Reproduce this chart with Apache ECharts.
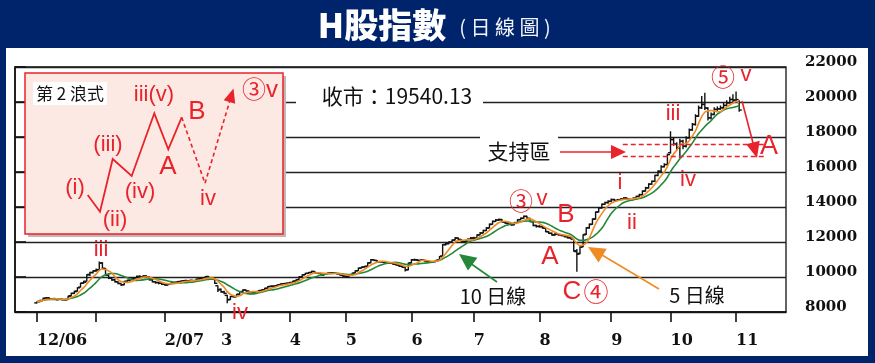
<!DOCTYPE html>
<html><head><meta charset="utf-8">
<script src="https://cdn.jsdelivr.net/npm/echarts@6/dist/echarts.min.js"></script>
<style>html,body{margin:0;padding:0;background:#fff;}#c{width:875px;height:363px;}</style>
</head><body><div id="c"></div>
<script>
// ---- data: H-share index daily OHLC, 1 Dec 2006 .. 2 Nov 2007 (trading-day index starts at 7) ----
const firstIdx = 7;
const opens = [
 8520,8600,8660,8790,8810,8730,8770,8700,8740,8710,8720,8930,9060,9200,9420,9660,9760,10150,10260,
 10360,10420,10800,10480,10100,9950,9850,9720,9620,9560,9760,9820,9880,9960,10040,10000,10060,10010,9840,9730,9690,9650,
 9590,9540,9610,9650,9700,9740,9770,9800,9780,9810,9800,9880,9910,9960,10030,9940,9960,9500,
 9300,9140,8950,8720,8900,8870,9020,9170,9250,9190,9060,9130,9170,9230,9270,9360,9460,9480,9500,9560,9610,9630,
 9650,9690,9770,9850,10010,10130,10210,10260,10320,10240,10200,10110,10180,10220,10240,10210,10170,10110,
 10060,10010,10110,10230,10360,10510,10570,10620,10820,10990,10940,10870,10870,10840,10810,10780,10730,10680,10610,10550,10420,
 10810,10990,10970,10940,10990,10920,10870,10860,10890,10970,11200,11860,11910,12000,12120,12230,12140,12010,12060,12160,
 12230,12230,12410,12520,12660,12800,13020,13180,13260,13290,13140,13070,13010,12990,13110,13280,13360,13470,13340,13160,12940,
 12900,12870,12790,12580,12490,12400,12460,12420,12360,12300,12240,12150,11450,11350,11750,12450,12820,13020,13320,13720,13960,14160,14260,
 14330,14430,14370,14420,14460,14520,14440,14420,14510,14610,14710,14910,15100,15310,15470,15810,16050,16310,16430,
 17100,17860,17580,17400,17760,17480,17960,18420,18730,19200,19680,19870,19640,19100,19300,19580,19620,19680,19810,19960,20150,
 20110,20000
];
const highs = [
 8620,8700,8820,8860,8830,8800,8790,8780,8770,8740,8930,9100,9220,9420,9680,9790,10160,10300,10380,
 10480,10880,10850,10520,10150,10000,9900,9760,9650,9780,9850,9900,9990,10080,10100,10100,10110,10040,9880,9760,9720,9690,
 9620,9640,9680,9720,9770,9790,9830,9840,9840,9830,9900,9940,9990,10060,10060,9990,9990,9520,
 9350,9210,8980,8920,8950,9040,9190,9300,9290,9210,9150,9190,9250,9290,9380,9480,9510,9520,9580,9630,9660,9680,
 9720,9790,9860,10040,10160,10240,10290,10360,10340,10280,10230,10200,10250,10270,10270,10240,10200,10140,
 10090,10130,10250,10380,10540,10600,10640,10840,11030,11020,10970,10910,10900,10880,10840,10810,10760,10710,10640,10580,10820,
 11030,11050,11020,11020,11030,10960,10910,10920,10990,11200,11880,11960,12050,12150,12280,12260,12170,12100,12200,12280,
 12300,12440,12570,12700,12850,13060,13230,13320,13350,13320,13190,13120,13060,13150,13310,13400,13520,13500,13380,13190,12990,
 12960,12920,12830,12620,12540,12510,12500,12460,12400,12340,12300,12180,11600,11760,12450,12850,13060,13350,13750,14000,14200,14300,14380,
 14480,14470,14460,14500,14560,14540,14480,14540,14650,14760,14950,15150,15360,15520,15850,16100,16380,16500,17050,
 18330,18000,17700,17900,17850,18050,18480,18800,19300,19800,20350,20530,19700,19400,19700,19750,19800,19950,20100,20300,20450,
 20600,20100
];
const lows = [
 8480,8560,8640,8740,8700,8700,8680,8680,8670,8640,8700,8880,9030,9160,9400,9610,9740,10060,10200,
 10300,10380,10450,10080,9880,9780,9680,9590,9480,9530,9720,9790,9850,9930,9950,9960,9990,9800,9690,9620,9580,9540,
 9500,9510,9580,9630,9680,9710,9740,9750,9750,9760,9780,9850,9880,9930,9900,9900,9600,9150,
 9100,9020,8500,8680,8820,8850,8990,9130,9170,9030,9030,9100,9150,9210,9250,9340,9430,9450,9480,9540,9580,9600,
 9620,9660,9750,9830,9980,10110,10180,10230,10220,10180,10080,10090,10150,10190,10180,10150,10090,10010,
 9980,9990,10090,10200,10340,10480,10540,10600,10790,10920,10850,10830,10810,10790,10760,10710,10660,10590,10530,10320,10380,
 10790,10930,10910,10920,10900,10850,10810,10830,10870,10950,11180,11800,11870,11960,12090,12110,11980,11980,12030,12130,
 12150,12200,12380,12490,12630,12780,12990,13140,13200,13110,13040,12960,12930,12960,13080,13240,13330,13300,13130,12900,12830,
 12820,12760,12560,12460,12360,12360,12370,12330,12270,12200,12150,11450,10300,11300,11700,12400,12760,12980,13280,13680,13900,14120,14180,
 14290,14340,14340,14390,14420,14410,14370,14380,14480,14580,14680,14880,15050,15260,15430,15760,16000,16260,16400,
 17050,17500,17250,16800,17300,17400,17900,18350,18650,19150,19600,19550,18950,19000,19250,19500,19550,19600,19750,19900,19950,
 20000,19450
];
const closes = [
 8590,8650,8780,8800,8740,8760,8720,8730,8700,8690,8900,9070,9160,9380,9640,9700,10120,10250,10340,
 10400,10790,10500,10120,9930,9830,9735,9640,9550,9735,9800,9870,9950,10020,10000,10050,10020,9850,9735,9680,9640,9600,
 9550,9600,9640,9690,9735,9760,9790,9790,9800,9790,9870,9900,9950,10020,9930,9950,9640,9260,
 9160,9070,8690,8880,8880,9000,9160,9260,9200,9070,9120,9160,9220,9260,9350,9450,9470,9490,9550,9600,9620,9640,
 9680,9760,9830,10000,10120,10200,10250,10310,10250,10215,10120,10170,10215,10230,10215,10180,10120,10050,
 10020,10100,10215,10350,10500,10560,10595,10800,10980,10950,10880,10860,10850,10820,10790,10740,10690,10620,10560,10405,10790,
 10980,10980,10950,10980,10930,10880,10850,10880,10950,11170,11840,11900,11980,12100,12220,12150,12025,12050,12150,12220,
 12220,12400,12510,12650,12790,13000,13170,13250,13270,13150,13080,13000,12980,13100,13270,13350,13460,13350,13170,12950,12885,
 12885,12800,12600,12500,12410,12450,12410,12380,12310,12250,12220,11500,11300,11700,12400,12800,13000,13300,13700,13950,14150,14250,14315,
 14415,14380,14415,14450,14510,14450,14415,14500,14600,14700,14900,15085,15300,15460,15800,16035,16300,16420,16990,
 17850,17600,17375,17750,17465,17950,18400,18710,19185,19665,19855,19665,19090,19280,19570,19600,19665,19800,19950,20140,20100,
 20140,19540
];
const monthTickIdx = [7, 26, 48, 66, 88, 106, 127, 147, 168, 191, 210, 231];
const monthTickLabels = ['12/06', '', '2/07', '3', '4', '5', '6', '7', '8', '9', '10', '11'];
const supportLevels = [17600, 16880];
const supportRange = [194.7, 240];

// ---- derived ----
const ohlc = closes.map((c, k) => [firstIdx + k, opens[k], highs[k], lows[k], c]);
function movingAvg(n) {
  return closes.map((_, k) => {
    const s = closes.slice(Math.max(0, k - n + 1), k + 1);
    return [firstIdx + k, s.reduce((a, b) => a + b, 0) / s.length];
  });
}

const RED = '#e8232b', ORANGE = '#f08a24', GREEN = '#23883a', NAVY = '#00246c';
const CJK = '"Noto Sans CJK TC", sans-serif';
const SANS = '"Liberation Sans", Arial, sans-serif';

function T(text, x, y, size, color, family, weight, z) {
  return {type: 'text', z: z || 40, style: {text: text, x: x, y: y, fill: color,
    font: (weight || 'normal') + ' ' + size + 'px ' + (family || SANS), align: 'center', verticalAlign: 'middle'}};
}
function R(x, y, w, h, fill, z, stroke, lw) {
  return {type: 'rect', z: z || 20, shape: {x: x, y: y, width: w, height: h},
    style: {fill: fill, stroke: stroke || null, lineWidth: lw || 0}};
}
function L(pts, color, lw, dash) {
  return {type: 'polyline', z: 35, shape: {points: pts}, style: {stroke: color, lineWidth: lw, fill: null, lineDash: dash || null}};
}
function head(tip, from, len, hw, color) {
  const dx = from[0] - tip[0], dy = from[1] - tip[1];
  const d = Math.sqrt(dx * dx + dy * dy), ux = dx / d, uy = dy / d;
  const bx = tip[0] + ux * len, by = tip[1] + uy * len;
  return {type: 'polygon', z: 36, shape: {points: [tip, [bx - uy * hw, by + ux * hw], [bx + uy * hw, by - ux * hw]]},
    style: {fill: color}};
}

const graphics = [
  // frame
  R(0, 0, 875, 48, NAVY, 50), R(0, 0, 6, 363, NAVY, 50), R(868, 0, 7, 363, NAVY, 50), R(0, 356, 875, 7, NAVY, 50),
  T('H股指數', 382, 25, 34, '#ffffff', CJK, '900', 60),
  T('( 日 線 圖 )', 505, 27, 20, '#f2f4fa', CJK, 'normal', 60),
  // inset
  R(28, 76, 258, 161, '#c4b7b3', 18),
  R(25, 73, 258, 161, '#fde9e3', 19, RED, 1.5),
  R(33, 82, 74, 23, '#ffffff', 20),
  T('第 2 浪式', 70, 94, 17, '#111', CJK),
  L([[87.7,195],[100,211.7],[112.7,159],[131.7,176],[154.3,113.3],[168.3,149.3],[181.7,117.3]], RED, 1.8),
  L([[181.7,117.3],[205,183.3],[229.5,102]], RED, 1.6, [4, 3]),
  head([233.5, 88.5], [205, 183.3], 14, 6, RED),
  T('(i)', 75, 188, 22, RED), T('(ii)', 115, 220, 22, RED), T('(iii)', 108, 145, 22, RED),
  T('(iv)', 140, 192, 22, RED), T('iii(v)', 154, 95, 22, RED), T('A', 168, 167, 26, RED),
  T('B', 197, 112, 26, RED), T('iv', 208, 199, 22, RED),
  T('③', 254, 89, 24, RED, CJK), T('v', 272, 90, 24, RED),
  // main chart notes
  R(296, 88, 187, 20, '#ffffff', 5),
  T('收市：19540.13', 397, 96, 21, '#111', CJK),
  R(480, 134, 78, 31, '#ffffff', 5),
  T('支持區', 519, 151, 21, '#111', CJK),
  L([[560,152],[612,152]], RED, 1.6), head([626, 152], [560, 152], 15, 7, RED),
  T('A', 769, 147, 27, RED),
  L([[742,101],[753,143]], RED, 1.6), head([757, 158], [742, 101], 16, 7, RED),
  T('⑤', 723, 77, 24, RED, CJK), T('v', 746, 75, 22, RED),
  T('iii', 673, 114, 22, RED), T('iv', 688, 180, 22, RED),
  T('i', 620, 183, 22, RED), T('ii', 632, 223, 22, RED),
  T('③', 521, 201, 24, RED, CJK), T('v', 542, 199, 22, RED),
  T('B', 566, 215, 26, RED), T('A', 550, 257, 26, RED),
  T('C', 572, 292, 26, RED), T('④', 596, 291, 25, RED, CJK),
  T('iii', 101, 250, 22, RED), T('iv', 240, 313, 22, RED),
  T('10 日線', 493, 296, 20, '#111', CJK),
  L([[497,282],[470,263]], GREEN, 1.6), head([459, 254], [497, 282], 17, 8, GREEN),
  T('5 日線', 697, 295, 20, '#111', CJK),
  L([[659,289],[602,255]], ORANGE, 1.6), head([588, 247], [659, 289], 17, 8, ORANGE)
];

function renderOHLC(params, api) {
  const i = api.value(0);
  const o = api.coord([i, api.value(1)]);
  const h = api.coord([i, api.value(2)]);
  const l = api.coord([i, api.value(3)]);
  const c = api.coord([i, api.value(4)]);
  const x = o[0];
  const st = {stroke: '#111', lineWidth: 1.4};
  return {type: 'group', children: [
    {type: 'line', shape: {x1: x, y1: h[1], x2: x, y2: l[1]}, style: st},
    {type: 'line', shape: {x1: x - 2.6, y1: o[1], x2: x, y2: o[1]}, style: st},
    {type: 'line', shape: {x1: x, y1: c[1], x2: x + 2.6, y2: c[1]}, style: st}
  ]};
}

const chart = echarts.init(document.getElementById('c'), null, {renderer: 'canvas'});
chart.setOption({
  animation: false,
  backgroundColor: '#ffffff',
  grid: {left: 15, right: 89, top: 67, bottom: 51, show: true, borderColor: '#111', borderWidth: 1.3},
  xAxis: {
    type: 'value', min: 0, max: 247,
    axisLine: {show: true, lineStyle: {color: '#111', width: 1.6}},
    axisTick: {show: true, customValues: monthTickIdx, length: 10, inside: false, lineStyle: {color: '#111', width: 1.6}},
    axisLabel: {
      customValues: monthTickIdx.filter((v, i) => monthTickLabels[i] !== ''),
      formatter: v => monthTickLabels[monthTickIdx.indexOf(v)],
      align: 'left', margin: 21, fontFamily: 'DejaVu Serif', fontWeight: 'bold', fontSize: 16, color: '#111'
    },
    splitLine: {show: false}
  },
  yAxis: {
    type: 'value', position: 'right', min: 8000, max: 22000, interval: 2000,
    axisLine: {show: true, lineStyle: {color: '#111', width: 1.6}},
    axisTick: {show: true, length: 11, lineStyle: {color: '#111', width: 1.6}},
    axisLabel: {margin: 19, verticalAlign: 'bottom', lineHeight: 10, formatter: v => String(v),
      fontFamily: 'DejaVu Serif', fontWeight: 'bold', fontSize: 15, color: '#111'},
    splitLine: {show: true, lineStyle: {color: '#222', width: 1.3}}
  },
  series: [
    {type: 'custom', name: 'OHLC', renderItem: renderOHLC, data: ohlc, encode: {x: 0, y: [1, 2, 3, 4]}, z: 2},
    {type: 'line', name: '10日線', data: movingAvg(10), showSymbol: false, smooth: 0.3, z: 3,
      lineStyle: {color: GREEN, width: 1.6},
      markLine: {silent: true, symbol: ['none', 'none'], label: {show: false},
        lineStyle: {color: RED, type: [5, 3], width: 1.3},
        data: supportLevels.map(v => [{coord: [supportRange[0], v]}, {coord: [supportRange[1], v]}])}},
    {type: 'line', name: '5日線', data: movingAvg(5), showSymbol: false, smooth: 0.3, z: 4,
      lineStyle: {color: ORANGE, width: 1.6}}
  ],
  graphic: graphics
});
</script></body></html>
